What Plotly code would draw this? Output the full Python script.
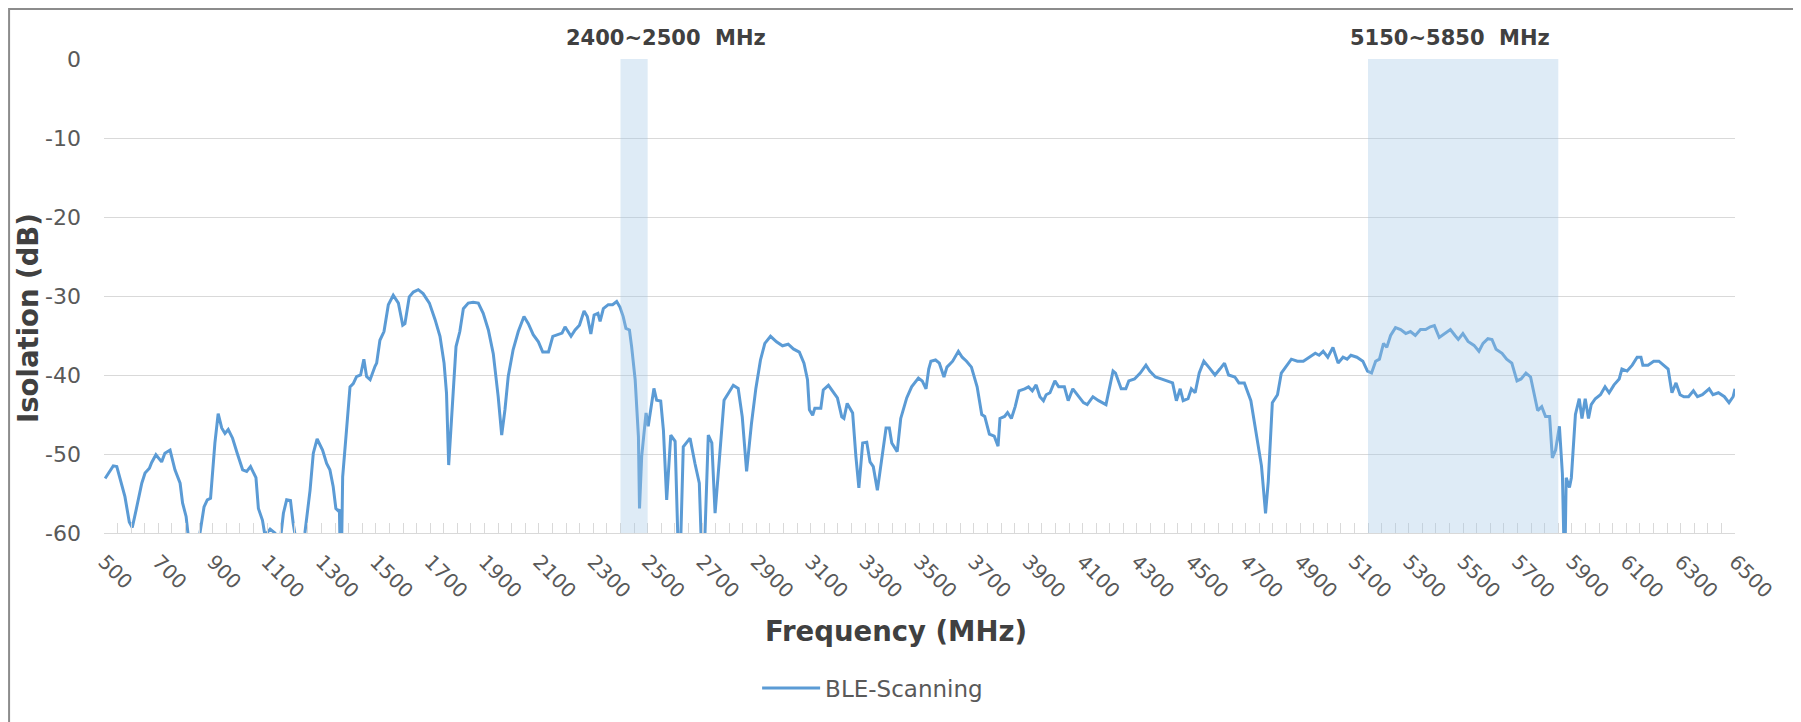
import plotly.graph_objects as go

# ---------------- data ----------------
freq_mhz = [
    504, 534, 547, 565, 577, 593, 604, 618, 639, 651, 667, 675, 691, 712, 724, 743, 761, 780, 789, 802,
    812, 830, 848, 853, 868, 880, 892, 908, 920, 933, 945, 957, 973, 990, 1010, 1025, 1039, 1059, 1068, 1083,
    1092, 1111, 1129, 1140, 1150, 1160, 1172, 1186, 1196, 1209, 1225, 1239, 1258, 1270, 1284, 1304, 1319, 1331, 1343, 1353,
    1362, 1366, 1369, 1374, 1378, 1392, 1405, 1417, 1429, 1444, 1456, 1466, 1479, 1497, 1503, 1515,
    1530, 1546, 1564, 1583, 1599, 1607, 1623, 1638, 1656, 1674, 1697, 1718, 1736, 1751, 1760, 1768, 1779, 1795, 1809, 1822,
    1840, 1858, 1877, 1895, 1914, 1932, 1950, 1963, 1975, 1987, 2005, 2024, 2045, 2061, 2079, 2098, 2114, 2135, 2151, 2168,
    2185, 2196, 2218, 2233, 2249, 2266, 2278, 2291, 2303, 2317, 2325, 2337, 2355, 2371, 2386, 2398, 2410, 2420, 2433, 2441,
    2454, 2466, 2470, 2478, 2490,
    2494, 2502, 2523, 2533, 2548, 2558, 2570, 2585, 2601, 2613, 2620, 2631, 2656, 2674, 2690, 2699, 2709, 2723, 2736, 2748,
    2766, 2781, 2797, 2815, 2833, 2848, 2864, 2882, 2898, 2915, 2931, 2952, 2974, 2996, 3017, 3036, 3058, 3075, 3088, 3095,
    3107, 3115, 3137, 3146, 3165, 3183, 3198, 3214, 3222, 3234, 3254, 3266, 3277, 3291, 3306, 3318, 3330, 3345, 3361, 3377,
    3389, 3398, 3418, 3431, 3453, 3471, 3496,
    3510, 3524, 3534, 3542, 3559, 3573, 3590, 3601, 3622, 3643, 3657, 3673, 3691, 3712, 3729, 3740, 3757, 3775, 3789, 3796,
    3813, 3824, 3838, 3852, 3866, 3887, 3901, 3915, 3929, 3943, 3956, 3966, 3980, 3998, 4012, 4033, 4047, 4064, 4082, 4103,
    4117, 4138, 4159, 4186, 4212, 4221, 4242, 4259, 4270, 4291, 4312, 4333, 4347, 4368, 4389, 4410, 4431, 4445,
    4459, 4470, 4488, 4500, 4514, 4529, 4546, 4564, 4587, 4605, 4622, 4637, 4660, 4675, 4695, 4719, 4739, 4758, 4773, 4783,
    4798, 4817, 4831, 4846, 4868, 4890, 4912, 4934, 4956, 4970, 4985, 5002, 5021, 5040, 5058, 5073, 5087, 5109, 5131, 5148,
    5163, 5178, 5192, 5207, 5219, 5233, 5251, 5270, 5289, 5306, 5324, 5343, 5362, 5379, 5394, 5412, 5431, 5453, 5470, 5482,
    5499, 5518, 5540, 5558, 5573, 5591, 5606, 5621, 5643, 5660, 5679, 5698, 5713, 5731, 5748, 5763, 5774, 5789, 5803, 5818,
    5828, 5840, 5854, 5865, 5871, 5875, 5879, 5891, 5898, 5913, 5927, 5937, 5949, 5961, 5971, 5986, 6005, 6022, 6037, 6055,
    6074, 6084, 6103, 6122, 6140, 6154, 6161, 6180, 6201, 6220, 6239, 6254, 6268, 6283, 6298, 6312, 6329, 6347, 6362, 6380,
    6405, 6419, 6439, 6461, 6478, 6493, 6500,
]
isolation_db = [
    -53.1, -51.5, -51.6, -54.1, -55.4, -58.6, -59.3, -57.1, -53.7, -52.4, -51.8, -51.1, -50.1, -51.0, -49.9, -49.5, -52.0, -53.7, -56.2, -57.9,
    -61.0, -63.0, -61.0, -60.0, -56.7, -55.8, -55.6, -48.6, -44.9, -46.7, -47.4, -46.9, -48.0, -49.9, -52.0, -52.2, -51.6, -53.0, -56.9, -58.4,
    -60.3, -59.5, -60.0, -62.0, -60.5, -57.5, -55.8, -55.9, -58.8, -61.5, -63.0, -60.0, -54.6, -49.9, -48.1, -49.5, -51.2, -52.0, -54.1, -56.9,
    -57.2, -57.0, -63.0, -62.0, -52.9, -47.0, -41.5, -41.1, -40.2, -40.0, -38.0, -40.2, -40.6, -38.9, -38.5, -35.6,
    -34.5, -31.1, -29.9, -30.9, -33.7, -33.5, -30.1, -29.5, -29.2, -29.7, -30.9, -33.0, -35.1, -38.5, -42.3, -51.4, -45.7, -36.4, -34.5, -31.6,
    -30.9, -30.8, -30.9, -32.2, -34.3, -37.3, -42.7, -47.6, -44.4, -40.2, -36.8, -34.5, -32.6, -33.5, -34.9, -35.8, -37.1, -37.1, -35.1, -34.9,
    -34.7, -33.9, -35.1, -34.3, -33.7, -31.9, -32.6, -34.8, -32.4, -32.2, -33.2, -31.6, -31.1, -31.1, -30.7, -31.4, -32.6, -34.1, -34.3, -36.4,
    -40.6, -47.8, -56.9, -50.3, -46.1,
    -44.8, -46.5, -41.7, -43.2, -43.3, -47.0, -55.8, -47.6, -48.4, -63.0, -63.0, -49.1, -48.0, -51.2, -53.7, -63.0, -62.0, -47.6, -48.6, -57.5,
    -49.5, -43.2, -42.3, -41.3, -41.7, -45.3, -52.2, -46.1, -41.7, -38.1, -36.0, -35.1, -35.8, -36.3, -36.1, -36.7, -37.1, -38.5, -40.6, -44.4,
    -45.1, -44.2, -44.2, -41.9, -41.3, -42.1, -42.9, -45.3, -45.5, -43.6, -44.8, -50.3, -54.3, -48.6, -48.5, -51.0, -51.6, -54.6, -50.3, -46.7,
    -46.7, -48.6, -49.7, -45.5, -42.9, -41.5, -40.4,
    -40.75, -41.75, -39.25, -38.25, -38.1, -38.5, -40.25, -39.0, -38.25, -37.0, -37.75, -38.25, -39.0, -41.5, -45.0, -45.25, -47.5, -47.75, -49.0, -45.5,
    -45.25, -44.75, -45.5, -44.0, -42.0, -41.75, -41.5, -42.0, -41.25, -42.75, -43.25, -42.5, -42.25, -40.75, -41.5, -41.5, -43.25, -41.75, -42.5, -43.5,
    -43.75, -42.75, -43.25, -43.75, -39.5, -39.75, -41.75, -41.75, -40.75, -40.5, -39.75, -38.75, -39.5, -40.25, -40.5, -40.75, -41.0, -43.25,
    -41.75, -43.25, -43.0, -41.75, -42.25, -39.75, -38.25, -39.0, -40.0, -39.25, -38.5, -40.0, -40.25, -41.0, -41.0, -43.25, -47.5, -51.5, -57.5, -53.5,
    -43.5, -42.5, -39.75, -39.0, -38.0, -38.25, -38.25, -37.75, -37.25, -37.5, -37.0, -37.75, -36.5, -38.5, -37.75, -38.0, -37.5, -37.75, -38.25, -39.5,
    -39.75, -38.25, -38.0, -36.0, -36.5, -35.0, -34.0, -34.25, -34.75, -34.5, -35.0, -34.25, -34.25, -33.9, -33.75, -35.25, -34.75, -34.25, -35.0, -35.5,
    -34.75, -35.75, -36.25, -37.0, -36.0, -35.4, -35.5, -36.75, -37.25, -38.0, -38.5, -40.75, -40.5, -39.75, -40.25, -42.5, -44.5, -44.0, -45.25, -45.25,
    -50.5, -49.5, -46.5, -52.5, -62.0, -62.0, -53.0, -54.25, -53.0, -45.0, -43.0, -45.5, -43.0, -45.5, -43.75, -43.0, -42.5, -41.5, -42.25, -41.25,
    -40.5, -39.25, -39.5, -38.75, -37.75, -37.75, -38.75, -38.75, -38.25, -38.25, -38.75, -39.25, -42.25, -41.0, -42.5, -42.75, -42.75, -42.0, -42.75, -42.5,
    -41.75, -42.5, -42.25, -42.75, -43.5, -42.75, -41.75,
]
series_name = "BLE-Scanning"
band_labels = ["2400~2500\u00a0 MHz", "5150~5850\u00a0 MHz"]
band_start = [2400, 5150]
band_end = [2500, 5850]
band_label_x = [2567, 5450]
x_tick_vals = list(range(500, 6501, 200))
x_tick_text = [str(v) for v in x_tick_vals]
y_tick_vals = [0, -10, -20, -30, -40, -50, -60]
y_tick_text = [str(v) for v in y_tick_vals]

FONT = "DejaVu Sans"
GRID = "#D9D9D9"
TICKC = "#595959"
TITLEC = "#404040"

fig = go.Figure()
fig.add_trace(go.Scatter(
    x=freq_mhz, y=isolation_db, mode="lines", name=series_name,
    line=dict(color="#5B9BD5", width=3),
))

for s, e, lab, lx in zip(band_start, band_end, band_labels, band_label_x):
    fig.add_shape(type="rect", xref="x", yref="y", x0=s, x1=e, y0=-60, y1=0,
                  fillcolor="rgba(161,198,229,0.35)", line_width=0, layer="above")
    fig.add_annotation(x=lx, xref="x", y=1.0443, yref="paper", text="<b>" + lab + "</b>",
                       showarrow=False, xanchor="center", yanchor="middle",
                       font=dict(family=FONT, size=21, color=TITLEC))

# axis titles
fig.add_annotation(x=-0.0466, xref="paper", y=0.4536, yref="paper", text="<b>Isolation (dB)</b>",
                   textangle=-90, showarrow=False, xanchor="center", yanchor="middle",
                   font=dict(family=FONT, size=27.5, color=TITLEC))
fig.add_annotation(x=0.4856, xref="paper", y=-0.2068, yref="paper", text="<b>Frequency (MHz)</b>",
                   showarrow=False, xanchor="center", yanchor="middle",
                   font=dict(family=FONT, size=27.5, color=TITLEC))

# chart-area border (open at the bottom, as in the cropped original)
fig.add_shape(type="rect", xref="paper", yref="paper", x0=-0.0582, x1=1.0374, y0=-0.45, y1=1.1055,
              line=dict(color="#8C8C8C", width=2), fillcolor="rgba(0,0,0,0)", layer="above")

# page body has an 8 px margin, so the figure is 8 px smaller than the window
fig.update_layout(
    width=1793, height=714,
    margin=dict(l=96, r=66, t=51, b=189),
    paper_bgcolor="white", plot_bgcolor="white",
    showlegend=True,
    legend=dict(orientation="h", xref="container", yref="container", x=0.4178, y=0.0476,
                xanchor="left", yanchor="middle", itemwidth=58,
                font=dict(family=FONT, size=23, color=TICKC),
                bgcolor="rgba(0,0,0,0)"),
    xaxis=dict(range=[500, 6500], tickmode="array", tickvals=x_tick_vals, ticktext=x_tick_text,
               tickangle=45, ticks="inside", ticklen=10, tickcolor=GRID, tickwidth=1.3,
               showline=True, linecolor=GRID, linewidth=1.3, showgrid=False, zeroline=False,
               minor=dict(tick0=500, dtick=50, ticks="inside", ticklen=10, tickcolor=GRID, tickwidth=1.3, showgrid=False),
               tickfont=dict(family=FONT, size=20, color=TICKC), ticklabelstandoff=8),
    yaxis=dict(range=[-60, 0], tickmode="array", tickvals=y_tick_vals, ticktext=y_tick_text,
               showgrid=True, gridcolor=GRID, gridwidth=1.3, zeroline=False, showline=False,
               ticks="", tickfont=dict(family=FONT, size=22, color=TICKC), ticklabelstandoff=22),
)

fig.write_html("out.html")
